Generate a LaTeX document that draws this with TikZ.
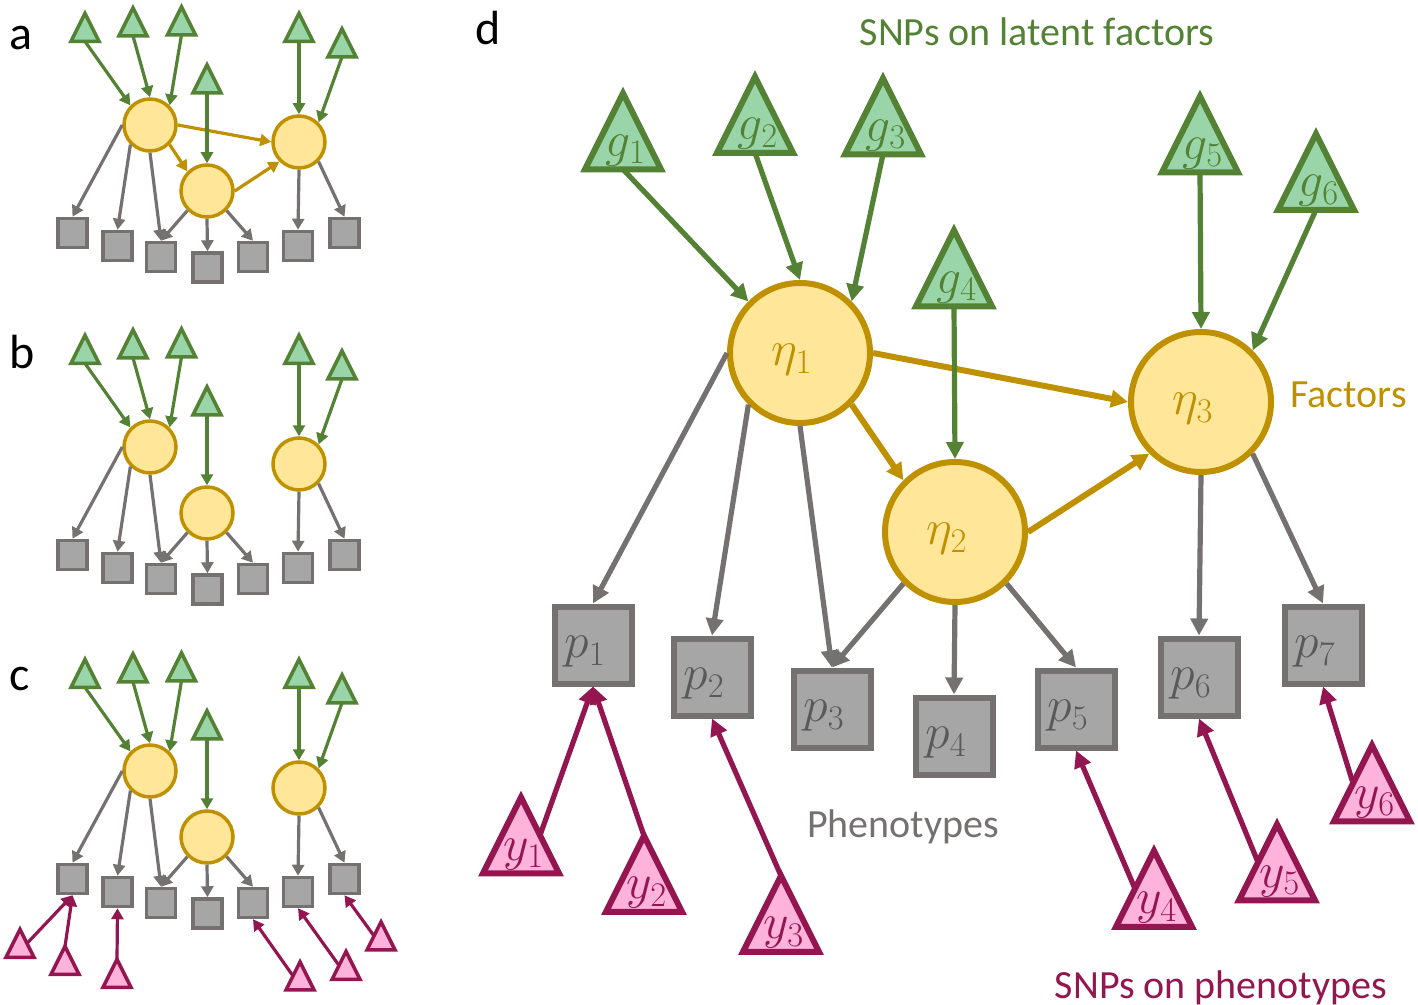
\documentclass[tikz,border=0pt]{standalone}
\usepackage{fontspec}
\setmainfont{Carlito}
\usetikzlibrary{arrows.meta}
\makeatletter
\pgfdeclareshape{uptri}{%
  \savedanchor\centerpoint{%
    \pgf@x=.5\wd\pgfnodeparttextbox
    \pgf@y=.5\ht\pgfnodeparttextbox
    \advance\pgf@y by -.5\dp\pgfnodeparttextbox
  }%
  \savedanchor\uptrisize{%
    \pgf@x=\pgfshapeminwidth
    \pgf@x=.5\pgf@x
    \pgf@y=\pgfshapeminheight
  }%
  \anchor{center}{\centerpoint}%
  \anchor{text}{\pgfpointorigin}%
  \anchor{apex}{\uptrisize\pgf@ya=.75\pgf@y\centerpoint\advance\pgf@y by\pgf@ya}%
  \anchor{bot}{\uptrisize\pgf@ya=.25\pgf@y\centerpoint\advance\pgf@y by-\pgf@ya}%
  \anchor{lside}{\uptrisize\pgf@xa=.5\pgf@x\pgf@ya=.25\pgf@y\centerpoint\advance\pgf@x by-\pgf@xa\advance\pgf@y by\pgf@ya}%
  \anchor{rside}{\uptrisize\pgf@xa=.5\pgf@x\pgf@ya=.25\pgf@y\centerpoint\advance\pgf@x by\pgf@xa\advance\pgf@y by\pgf@ya}%
  \anchorborder{%
    \edef\uptri@dx{\the\pgf@x}\edef\uptri@dy{\the\pgf@y}%
    \uptrisize
    \pgf@y=.25\pgf@y
    \edef\uptri@ex{\the\pgf@x}\edef\uptri@ey{\the\pgf@y}%
    \pgfpointborderrectangle{\pgfqpoint{\uptri@dx}{\uptri@dy}}{\pgfqpoint{\uptri@ex}{\uptri@ey}}%
    \pgf@xa=\pgf@x \pgf@ya=\pgf@y
    \centerpoint
    \advance\pgf@x by\pgf@xa \advance\pgf@y by\pgf@ya
  }%
  \backgroundpath{%
    \uptrisize
    \edef\uptri@hw{\the\pgf@x}%
    \edef\uptri@h{\the\pgf@y}%
    \centerpoint
    \edef\uptri@cx{\the\pgf@x}%
    \edef\uptri@cy{\the\pgf@y}%
    \pgfmathsetlengthmacro\uptri@top{\uptri@cy+0.75*\uptri@h}%
    \pgfmathsetlengthmacro\uptri@bot{\uptri@cy-0.25*\uptri@h}%
    \pgfmathsetlengthmacro\uptri@l{\uptri@cx-\uptri@hw}%
    \pgfmathsetlengthmacro\uptri@r{\uptri@cx+\uptri@hw}%
    \pgfpathmoveto{\pgfqpoint{\uptri@cx}{\uptri@top}}%
    \pgfpathlineto{\pgfqpoint{\uptri@l}{\uptri@bot}}%
    \pgfpathlineto{\pgfqpoint{\uptri@r}{\uptri@bot}}%
    \pgfpathclose
  }%
}
\makeatother
\definecolor{gline}{HTML}{548235}
\definecolor{gfill}{HTML}{99D5A8}
\definecolor{fline}{HTML}{BF9000}
\definecolor{ffill}{HTML}{FFE699}
\definecolor{pline}{HTML}{757171}
\definecolor{pfill}{HTML}{A6A6A6}
\definecolor{ptext}{HTML}{595959}
\definecolor{yline}{HTML}{941651}
\definecolor{yfill}{HTML}{FFB3DA}
\newcommand\shlab[1]{\raisebox{-3.5pt}[\height][\depth]{\kern-4pt$#1$\kern4pt}}
\newcommand\trilab[1]{\kern1.5pt$#1$\kern-1.5pt}
\tikzset{
  bigtri/.style={shape=uptri, line width=3pt, minimum width=38pt, minimum height=38pt, inner sep=0pt, font=\fontsize{23}{27}\selectfont},
  smalltri/.style={shape=uptri, line width=1.75pt, minimum width=14pt, minimum height=14pt, inner sep=0pt},
  gtri/.style={draw=gline, fill=gfill, text=gline},
  ytri/.style={draw=yline, fill=yfill, text=yline},
  bigfac/.style={circle, draw=fline, fill=ffill, line width=3pt, minimum size=70pt, inner sep=0pt, text=fline, font=\fontsize{23}{27}\selectfont},
  smallfac/.style={circle, draw=fline, fill=ffill, line width=1.75pt, minimum size=26pt, inner sep=0pt},
  bigphe/.style={rectangle, draw=pline, fill=pfill, line width=3pt, minimum size=38.5pt, inner sep=0pt, text=ptext, font=\fontsize{23}{27}\selectfont},
  smallphe/.style={rectangle, draw=pline, fill=pfill, line width=1.75pt, minimum size=14.5pt, inner sep=0pt},
  bigarr/.style={line width=2.6pt, -{Triangle[length=8.5pt,width=8.5pt]}},
  smallarr/.style={line width=1.6pt, -{Triangle[length=5.5pt,width=6pt]}},
  paneltag/.style={anchor=base west, inner sep=0pt, font=\fontsize{24}{29}\selectfont},
  caption/.style={inner sep=0pt, font=\fontsize{20}{24}\selectfont},
}
\begin{document}
\begin{tikzpicture}[x=0.5pt,y=-0.5pt]
\useasboundingbox (0,0) rectangle (1418,1005);
% ---------- panels a, b, c ----------
\foreach \pn/\dy in {a/0,b/322,c/646}{
  \node[smalltri,gtri] (\pn-g1) at (85,34.4+\dy) {};
  \node[smalltri,gtri] (\pn-g2) at (133,28.9+\dy) {};
  \node[smalltri,gtri] (\pn-g3) at (181.5,27.9+\dy) {};
  \node[smalltri,gtri] (\pn-g4) at (207,85.9+\dy) {};
  \node[smalltri,gtri] (\pn-g5) at (299,34.4+\dy) {};
  \node[smalltri,gtri] (\pn-g6) at (342,49.9+\dy) {};
  \node[smallfac] (\pn-e1) at (150,125+\dy) {};
  \node[smallfac] (\pn-e2) at (207,191+\dy) {};
  \node[smallfac] (\pn-e3) at (299,142+\dy) {};
  \node[smallphe] (\pn-p1) at (72.5,233+\dy) {};
  \node[smallphe] (\pn-p2) at (117.5,246+\dy) {};
  \node[smallphe] (\pn-p3) at (161,257+\dy) {};
  \node[smallphe] (\pn-p4) at (207.5,267.5+\dy) {};
  \node[smallphe] (\pn-p5) at (253,257+\dy) {};
  \node[smallphe] (\pn-p6) at (298,246+\dy) {};
  \node[smallphe] (\pn-p7) at (344.5,233+\dy) {};
  \draw[smallarr,pline] (\pn-e1.180) -- (\pn-p1.north);
  \draw[smallarr,pline] (\pn-e1.225) -- (\pn-p2.north);
  \draw[smallarr,pline] (\pn-e1.270) -- (\pn-p3.north);
  \draw[smallarr,pline] (\pn-e2.225) -- (\pn-p3.north);
  \draw[smallarr,pline] (\pn-e2.270) -- (\pn-p4.north);
  \draw[smallarr,pline] (\pn-e2.315) -- (\pn-p5.north);
  \draw[smallarr,pline] (\pn-e3.270) -- (\pn-p6.north);
  \draw[smallarr,pline] (\pn-e3.315) -- (\pn-p7.north);
}
\draw[smallarr,fline] (a-e1.0) -- (a-e3.180);
\draw[smallarr,fline] (a-e1.315) -- (a-e2.135);
\draw[smallarr,fline] (a-e2.0) -- (a-e3.225);
\foreach \pn in {a,b,c}{
  \draw[smallarr,gline] (\pn-g1.bot) -- (\pn-e1.135);
  \draw[smallarr,gline] (\pn-g2.bot) -- (\pn-e1.90);
  \draw[smallarr,gline] (\pn-g3.bot) -- (\pn-e1.45);
  \draw[smallarr,gline] (\pn-g4.bot) -- (\pn-e2.90);
  \draw[smallarr,gline] (\pn-g5.bot) -- (\pn-e3.90);
  \draw[smallarr,gline] (\pn-g6.bot) -- (\pn-e3.45);
}
\node[smalltri,ytri] (c-y1) at (20,950.4) {};
\node[smalltri,ytri] (c-y2) at (65,967.4) {};
\node[smalltri,ytri] (c-y3) at (117,980.4) {};
\node[smalltri,ytri] (c-y4) at (300,982.9) {};
\node[smalltri,ytri] (c-y5) at (346,972.4) {};
\node[smalltri,ytri] (c-y6) at (381,942.9) {};
\draw[smallarr,yline] (c-y1.rside) -- (c-p1.south);
\draw[smallarr,yline] (c-y2.apex) -- (c-p1.south);
\draw[smallarr,yline] (c-y3.apex) -- (c-p2.south);
\draw[smallarr,yline] (c-y4.lside) -- (c-p5.south);
\draw[smallarr,yline] (c-y5.lside) -- (c-p6.south);
\draw[smallarr,yline] (c-y6.lside) -- (c-p7.south);
\node[paneltag] (ta) at (9,50) {a};
\node[paneltag] (tb) at (9,369) {b};
\node[paneltag] (tc) at (9,690) {c};
\node[paneltag] (td) at (475,45) {d};
% ---------- panel d ----------
\node[bigtri,gtri] (g1) at (623,150.3) {\trilab{g_1}};
\node[bigtri,gtri] (g2) at (755,133.8) {\trilab{g_2}};
\node[bigtri,gtri] (g3) at (883,135.3) {\trilab{g_3}};
\node[bigtri,gtri] (g4) at (954,287.3) {\trilab{g_4}};
\node[bigtri,gtri] (g5) at (1200,153.3) {\trilab{g_5}};
\node[bigtri,gtri] (g6) at (1316,190.8) {\trilab{g_6}};
\node[bigfac] (eta1) at (800,353) {\shlab{\eta_1}};
\node[bigfac] (eta2) at (955,532) {\shlab{\eta_2}};
\node[bigfac] (eta3) at (1201,402) {\shlab{\eta_3}};
\node[bigphe] (p1) at (593,645) {\shlab{p_1}};
\node[bigphe] (p2) at (712,677) {\shlab{p_2}};
\node[bigphe] (p3) at (832,709) {\shlab{p_3}};
\node[bigphe] (p4) at (954,736) {\shlab{p_4}};
\node[bigphe] (p5) at (1076,709) {\shlab{p_5}};
\node[bigphe] (p6) at (1199,677) {\shlab{p_6}};
\node[bigphe] (p7) at (1323,645) {\shlab{p_7}};
\node[bigtri,ytri] (y1) at (521,854.3) {\trilab{y_1}};
\node[bigtri,ytri] (y2) at (644,892.8) {\trilab{y_2}};
\node[bigtri,ytri] (y3) at (781,932.8) {\trilab{y_3}};
\node[bigtri,ytri] (y4) at (1154,907.8) {\trilab{y_4}};
\node[bigtri,ytri] (y5) at (1277,881.3) {\trilab{y_5}};
\node[bigtri,ytri] (y6) at (1372,802.3) {\trilab{y_6}};
\draw[bigarr,pline] (eta1.180) -- (p1.north);
\draw[bigarr,pline] (eta1.225) -- (p2.north);
\draw[bigarr,pline] (eta1.270) -- (p3.north);
\draw[bigarr,pline] (eta2.225) -- (p3.north);
\draw[bigarr,pline] (eta2.270) -- (p4.north);
\draw[bigarr,pline] (eta2.315) -- (p5.north);
\draw[bigarr,pline] (eta3.270) -- (p6.north);
\draw[bigarr,pline] (eta3.315) -- (p7.north);
\draw[bigarr,fline,line width=3pt] (eta1.0) -- (eta3.180);
\draw[bigarr,fline,line width=3pt] (eta1.315) -- (eta2.135);
\draw[bigarr,fline,line width=3pt] (eta2.0) -- (eta3.225);
\draw[bigarr,gline] (g1.bot) -- (eta1.135);
\draw[bigarr,gline] (g2.bot) -- (eta1.90);
\draw[bigarr,gline] (g3.bot) -- (eta1.45);
\draw[bigarr,gline] (g4.bot) -- (eta2.90);
\draw[bigarr,gline] (g5.bot) -- (eta3.90);
\draw[bigarr,gline] (g6.bot) -- (eta3.45);
\draw[bigarr,yline] (y1.rside) -- (p1.south);
\draw[bigarr,yline] (y2.apex) -- (p1.south);
\draw[bigarr,yline] (y3.apex) -- (p2.south);
\draw[bigarr,yline] (y4.lside) -- (p5.south);
\draw[bigarr,yline] (y5.lside) -- (p6.south);
\draw[bigarr,yline] (y6.lside) -- (p7.south);
\node[caption,text=gline,anchor=base] (capg) at (1037,46) {SNPs on latent factors};
\node[caption,text=fline,anchor=base west] (capf) at (1290,408) {Factors};
\node[caption,text=pline,anchor=base] (capp) at (903,837) {Phenotypes};
\node[caption,text=yline,anchor=base] (capy) at (1221,998) {SNPs on phenotypes};
\end{tikzpicture}
\end{document}
